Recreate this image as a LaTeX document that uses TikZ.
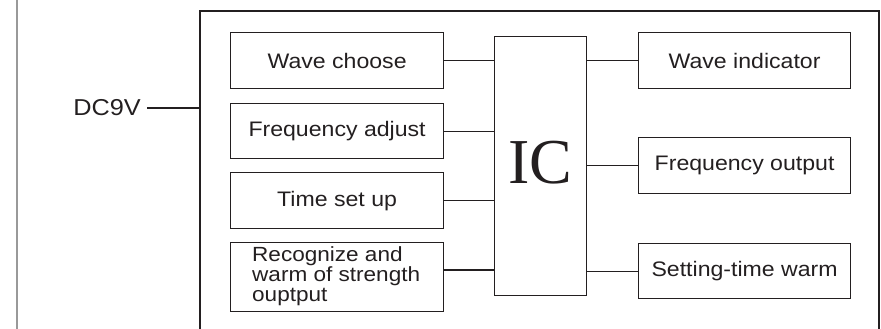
\documentclass[tikz,border=0pt]{standalone}
\usepackage{fontspec}
\setmainfont{Liberation Sans}[FakeStretch=1.1]
\newfontfamily\icfont{Liberation Serif}
\definecolor{ink}{HTML}{231F20}
\begin{document}
\begin{tikzpicture}[x=1pt,y=-1pt,
  box/.style={draw=ink,line width=1.2pt,rectangle,inner sep=0pt,minimum width=213pt,minimum height=56pt,font=\fontsize{21}{24}\selectfont,text=ink},
  wire/.style={draw=ink,line width=1.2pt}]
\useasboundingbox (0,0) rectangle (881,329);
% gray left line
\draw[gray!80,line width=1.5pt] (17,0) -- (17,329);
% outer frame (open at bottom)
\coordinate (fbl) at (200,329);
\coordinate (ftl) at (200,11);
\coordinate (ftr) at (879,11);
\coordinate (fbr) at (879,329);
\draw[wire] (fbl) -- (ftl) -- (ftr) -- (fbr);
% DC9V
\node[anchor=east,inner sep=0pt,text=ink,font=\fontsize{23}{26}\selectfont] (dc) at (141,108) {DC9V};
\coordinate (dcin) at (200,108);
\draw[wire] ([xshift=6pt]dc.east) -- (dcin);
% IC
\node[draw=ink,line width=1.2pt,rectangle,minimum width=92pt,minimum height=259pt,inner sep=0pt,anchor=north west] (ic) at (494,36) {};
\node[text=ink,font=\icfont\fontsize{64}{64}\selectfont,inner sep=0pt] (ictext) at (540,163) {IC};
% left boxes
\node[box,anchor=north west] (wc) at (230,32) {Wave choose};
\node[box,anchor=north west,minimum height=55pt] (fa) at (230,103) {Frequency adjust};
\node[box,anchor=north west] (ts) at (230,172) {Time set up};
\node[box,anchor=north west,minimum height=69pt] (rw) at (230,242) {};
\node[anchor=north west,inner sep=0pt,align=left,text=ink,font=\fontsize{20.5}{20}\selectfont] (rwt) at (252,246) {Recognize and\\warm of strength\\ouptput};
% right boxes
\node[box,anchor=north west,minimum width=212pt] (wi) at (638,32) {Wave indicator};
\node[box,anchor=north west,minimum width=212pt] (fo) at (638,137) {Frequency output};
\node[box,anchor=north west,minimum width=212pt,minimum height=55pt] (sw) at (638,243) {Setting-time warm};
% connectors
\coordinate (y4) at (0,270);
\draw[wire] (wc.east) -- (wc.east -| ic.west);
\draw[wire] (fa.east) -- (fa.east -| ic.west);
\draw[wire] (ts.east) -- (ts.east -| ic.west);
\draw[wire] (rw.east |- y4) -- (ic.west |- y4);
\draw[wire] (ic.east |- wi.west) -- (wi.west);
\draw[wire] (ic.east |- fo.west) -- (fo.west);
\draw[wire] (ic.east |- sw.west) -- (sw.west);
\end{tikzpicture}
\end{document}
